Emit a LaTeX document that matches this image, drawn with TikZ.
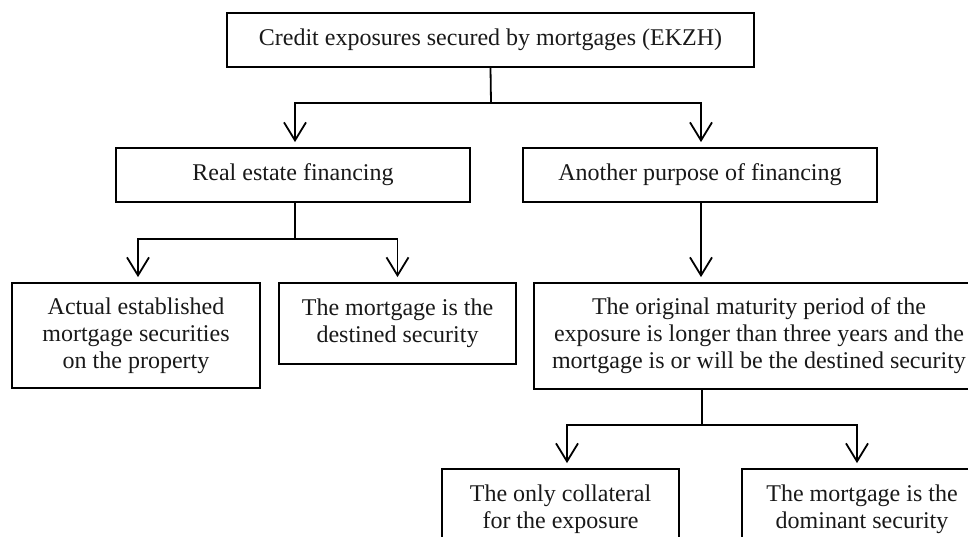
\documentclass[tikz,border=0pt]{standalone}
\usepackage{fontspec}
\setmainfont{Liberation Serif}
\usetikzlibrary{arrows.meta}
\tikzset{
  box/.style={draw, line width=1.8pt, rectangle, align=center, inner sep=0pt,
    font=\fontsize{24}{27}\selectfont, text=black!90},
  arr/.style={line width=1.8pt, -{Straight Barb[length=18pt,width=22pt,line width=1.8pt]}, shorten >=5pt},
  ln/.style={line width=1.8pt}
}
\begin{document}
\begin{tikzpicture}[x=1pt,y=-1pt]
\clip (0,0) rectangle (968,537);
\fill[white] (0,0) rectangle (968,537);
\node[box, minimum width=527pt, minimum height=54pt] (top) at (490.5,40) {Credit exposures secured by mortgages (EKZH)};
\node[box, minimum width=354pt, minimum height=54pt] (re) at (293,175) {Real estate financing};
\node[box, minimum width=354pt, minimum height=54pt] (an) at (700,175) {Another purpose of financing};
\node[box, minimum width=248pt, minimum height=105pt] (act) at (136,335.5) {Actual established\\mortgage securities\\on the property};
\node[box, minimum width=237pt, minimum height=81pt] (dest) at (397.5,323.5) {The mortgage is the\\destined security};
\node[box, minimum width=450pt, minimum height=106pt] (big) at (759,336) {The original maturity period of the\\exposure is longer than three years and the\\mortgage is or will be the destined security};
\node[box, minimum width=237pt, minimum height=81pt] (bl) at (560.5,509.5) {The only collateral\\for the exposure};
\node[box, minimum width=240pt, minimum height=81pt] (br) at (862,509.5) {The mortgage is the\\dominant security};
% connectors
\coordinate (j1) at (491,103);
\draw[ln] (top.south) -- (j1);
\draw[arr] (j1) -| ([xshift=2pt]re.north);
\draw[arr] (j1) -| ([xshift=1pt]an.north);
\coordinate (j2) at ([xshift=2pt]re.south |- 0,239);
\draw[ln] ([xshift=2pt]re.south) -- (j2);
\draw[arr] (j2) -| ([xshift=2pt]act.north);
\draw[arr] (j2) -| (dest.north);
\draw[arr] ([xshift=1pt]an.south) -- ([xshift=1pt]an.south |- big.north);
\coordinate (j3) at (702,425);
\draw[ln] (j3 |- big.south) -- (j3);
\draw[arr] (j3) -| ([xshift=6.5pt]bl.north);
\draw[arr] (j3) -| ([xshift=-5pt]br.north);
\end{tikzpicture}
\end{document}
